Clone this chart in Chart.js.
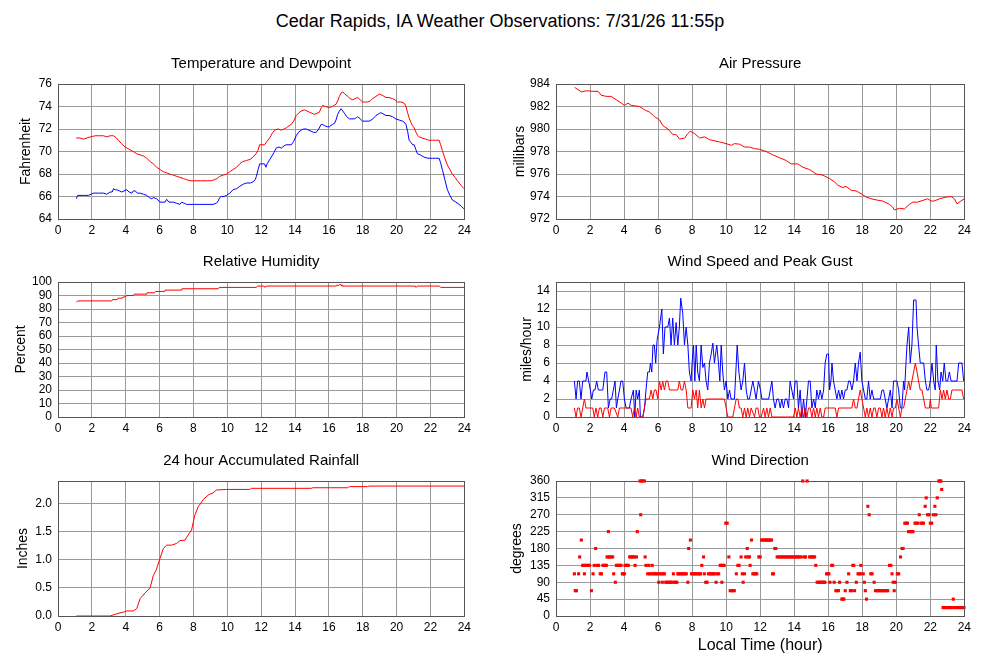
<!DOCTYPE html>
<html>
<head>
<meta charset="utf-8">
<script src="https://cdn.jsdelivr.net/npm/chart.js@4.4.1/dist/chart.umd.min.js"></script>
<style>
    body { margin: 0; background: #fff; }
    #page { position: relative; width: 1000px; height: 660px; overflow: hidden; font-family: "Liberation Sans", Arial, sans-serif; }
    #mainTitle { position: absolute; left: 0; top: 10px; width: 1000px; text-align: center; font-size: 18px; line-height: 22px; color: #000; }
    canvas { position: absolute; }
</style>
</head>
<body>
<div id="page">
    <div id="mainTitle">Cedar Rapids, IA Weather Observations: 7/31/26 11:55p</div>
    <canvas id="tempChart" width="475" height="198" style="left:0;top:45px"></canvas>
    <canvas id="pressChart" width="475" height="198" style="left:500px;top:45px"></canvas>
    <canvas id="rhChart" width="475" height="198" style="left:0;top:243px"></canvas>
    <canvas id="windChart" width="475" height="198" style="left:500px;top:243px"></canvas>
    <canvas id="rainChart" width="475" height="198" style="left:0;top:442px"></canvas>
    <canvas id="dirChart" width="475" height="218" style="left:500px;top:442px"></canvas>
</div>
<script>
// readings as [hour, value]
const temperature = [
    [1.08,71.2],[1.3,71.2],[1.51,71.1],[1.7,71.2],[1.9,71.3],[2.2,71.4],[2.45,71.4],[2.69,71.4],[2.88,71.3],[3.08,71.4],
    [3.28,71.4],[3.45,71.2],[3.57,71.0],[3.75,70.7],[3.96,70.4],[4.2,70.2],[4.45,70.0],[4.65,69.8],[4.85,69.7],[5.05,69.6],
    [5.24,69.4],[5.45,69.1],[5.63,68.9],[5.83,68.6],[6.02,68.4],[6.22,68.2],[6.42,68.1],[6.6,68.0],[6.81,67.9],[7.0,67.8],
    [7.2,67.7],[7.4,67.6],[7.59,67.5],[7.8,67.4],[7.99,67.4],[8.4,67.4],[8.77,67.4],[9.05,67.4],[9.26,67.5],[9.4,67.6],
    [9.56,67.8],[9.75,67.9],[9.95,68.0],[10.15,68.2],[10.34,68.4],[10.55,68.6],[10.73,68.9],[10.9,69.1],[11.13,69.2],[11.35,69.3],
    [11.52,69.5],[11.7,69.8],[11.81,70.1],[11.91,70.6],[12.05,70.6],[12.2,70.6],[12.35,70.9],[12.5,71.2],[12.65,71.6],[12.79,71.9],
    [13.0,72.0],[13.19,71.9],[13.35,72.0],[13.48,72.1],[13.65,72.3],[13.78,72.4],[13.92,72.7],[14.07,73.2],[14.2,73.4],[14.36,73.6],
    [14.56,73.7],[14.7,73.6],[14.85,73.5],[15.0,73.4],[15.15,73.3],[15.3,73.4],[15.44,73.5],[15.55,73.9],[15.64,74.1],[15.8,74.0],
    [16.03,73.9],[16.2,74.0],[16.42,74.2],[16.52,74.5],[16.62,74.9],[16.72,75.2],[16.82,75.3],[16.95,75.1],[17.11,74.9],[17.25,74.7],
    [17.41,74.6],[17.55,74.7],[17.7,74.8],[17.85,74.6],[17.99,74.4],[18.15,74.4],[18.29,74.4],[18.45,74.5],[18.58,74.7],[18.78,74.9],
    [18.98,75.1],[19.15,75.0],[19.37,74.8],[19.55,74.8],[19.76,74.7],[19.9,74.6],[20.05,74.4],[20.25,74.4],[20.45,74.3],[20.55,74.0],
    [20.64,73.5],[20.74,73.0],[20.84,72.6],[20.94,72.3],[21.04,72.1],[21.15,71.7],[21.25,71.4],[21.33,71.3],[21.5,71.2],[21.72,71.1],
    [21.9,71.0],[22.12,71.0],[22.3,71.0],[22.51,71.0],[22.6,70.6],[22.7,70.1],[22.85,69.4],[23.0,68.8],[23.15,68.4],[23.29,68.0],
    [23.45,67.7],[23.59,67.4],[23.8,67.0],[23.98,66.7]
];
const dewpoint = [
    [1.08,65.8],[1.16,66.1],[1.5,66.1],[1.8,66.1],[2.1,66.3],[2.4,66.3],[2.69,66.3],[2.88,66.2],[3.08,66.4],[3.2,66.4],
    [3.28,66.7],[3.37,66.6],[3.47,66.6],[3.62,66.5],[3.77,66.4],[3.9,66.5],[4.06,66.6],[4.2,66.4],[4.36,66.3],[4.45,66.5],
    [4.55,66.5],[4.7,66.3],[4.85,66.3],[5.05,66.2],[5.24,66.1],[5.4,65.9],[5.53,65.8],[5.65,65.9],[5.83,65.8],[6.02,65.5],
    [6.2,65.5],[6.32,65.5],[6.42,65.75],[6.55,65.5],[6.81,65.5],[7.0,65.4],[7.2,65.3],[7.3,65.5],[7.45,65.4],[7.59,65.3],
    [8.0,65.3],[8.38,65.3],[8.8,65.3],[9.16,65.3],[9.35,65.4],[9.46,65.6],[9.55,65.9],[9.65,66.0],[9.8,66.0],[9.95,66.1],
    [10.15,66.3],[10.34,66.6],[10.55,66.7],[10.73,66.9],[10.95,67.1],[11.13,67.2],[11.35,67.2],[11.52,67.3],[11.65,67.5],[11.72,67.8],
    [11.82,68.4],[11.91,68.9],[12.05,68.9],[12.2,68.9],[12.28,68.6],[12.35,68.9],[12.6,69.5],[12.75,69.9],[12.89,70.3],[13.05,70.4],
    [13.19,70.3],[13.35,70.5],[13.48,70.6],[13.65,70.6],[13.78,70.6],[13.92,70.9],[14.07,71.4],[14.2,71.7],[14.36,71.9],[14.5,72.0],
    [14.66,72.0],[14.8,71.9],[14.95,71.8],[15.1,71.7],[15.25,71.7],[15.4,72.0],[15.54,72.4],[15.64,72.4],[15.74,72.3],[15.9,72.2],
    [16.03,72.2],[16.2,72.4],[16.33,72.5],[16.42,72.8],[16.52,73.3],[16.62,73.6],[16.72,73.8],[16.82,73.6],[16.92,73.4],[17.05,73.1],
    [17.21,72.9],[17.35,72.9],[17.5,72.9],[17.62,73.0],[17.7,73.1],[17.85,72.9],[17.99,72.7],[18.2,72.7],[18.39,72.7],[18.6,72.9],
    [18.78,73.2],[18.93,73.35],[19.07,73.45],[19.2,73.35],[19.37,73.2],[19.55,73.2],[19.76,73.1],[19.95,72.9],[20.15,72.8],[20.35,72.7],
    [20.45,72.6],[20.55,72.4],[20.65,71.8],[20.74,71.0],[20.85,70.8],[20.95,70.6],[21.04,70.6],[21.13,70.2],[21.23,69.8],[21.4,69.7],
    [21.62,69.5],[21.85,69.4],[22.12,69.4],[22.3,69.4],[22.51,69.4],[22.6,69.0],[22.7,68.4],[22.85,67.5],[23.0,66.6],[23.15,66.1],
    [23.29,65.7],[23.5,65.5],[23.69,65.3],[23.85,65.1],[23.98,64.9]
];
const pressure = [
    [1.1,983.7],[1.29,983.5],[1.49,983.3],[1.78,983.4],[2.17,983.35],[2.47,983.35],[2.66,983.0],[2.96,982.9],[3.25,982.9],[3.54,982.6],
    [3.84,982.3],[4.03,982.1],[4.23,982.3],[4.42,982.1],[4.91,982.0],[5.21,981.7],[5.5,981.5],[5.79,981.1],[6.09,980.8],[6.28,980.3],
    [6.58,980.0],[6.87,979.5],[7.07,979.5],[7.26,979.1],[7.56,979.2],[7.75,979.6],[7.89,979.8],[8.14,979.6],[8.44,979.2],[8.73,979.3],
    [9.03,979.05],[9.61,978.85],[10.0,978.7],[10.3,978.55],[10.49,978.7],[10.79,978.65],[11.08,978.4],[11.37,978.4],[11.67,978.25],[11.96,978.2],
    [12.35,978.0],[12.74,977.7],[13.14,977.45],[13.53,977.2],[13.82,976.9],[14.21,976.9],[14.51,976.6],[14.9,976.4],[15.29,976.0],[15.68,975.9],
    [16.07,975.6],[16.37,975.3],[16.56,975.0],[16.86,974.8],[17.05,974.9],[17.35,974.55],[17.64,974.5],[17.93,974.25],[18.23,973.95],[18.52,973.8],
    [18.81,973.7],[19.2,973.6],[19.6,973.3],[19.79,973.05],[19.89,972.8],[20.18,972.95],[20.48,972.9],[20.77,973.3],[20.97,973.5],[21.26,973.5],
    [21.65,973.7],[21.85,973.8],[22.04,973.6],[22.24,973.6],[22.53,973.8],[22.93,973.95],[23.22,974.0],[23.41,973.8],[23.57,973.35],[23.8,973.6],
    [24.0,973.8]
];
const humidity = [
    [1.08,85],[1.16,86],[3.18,86],[3.22,87],[3.5,87],[3.55,88],[3.8,88],[3.85,89],[4.0,89],[4.05,90],
    [4.45,90],[4.5,91],[5.2,91],[5.25,92],[5.7,92],[5.75,93],[6.28,93],[6.32,94],[7.28,94],[7.32,95],
    [9.46,95],[9.52,96],[11.72,96],[11.78,97],[12.18,97],[12.24,96],[12.3,97],[16.45,97],[16.5,98],[16.56,97],
    [16.62,98],[16.72,98],[16.77,97],[21.1,97],[21.15,96],[21.22,97],[22.52,97],[22.6,96],[23.98,96]
];
const rainfall = [
    [1.08,0],[3.08,0],[3.47,0.04],[3.87,0.07],[4.06,0.09],[4.45,0.09],[4.65,0.13],[4.85,0.31],[5.14,0.41],[5.44,0.5],
    [5.63,0.72],[5.79,0.81],[6.02,1.02],[6.22,1.2],[6.42,1.26],[6.71,1.26],[7.01,1.29],[7.2,1.34],[7.5,1.35],[7.69,1.44],
    [7.89,1.53],[8.08,1.79],[8.28,1.94],[8.58,2.07],[8.87,2.15],[9.16,2.19],[9.36,2.24],[9.95,2.25],[11.32,2.25],[11.42,2.27],
    [14.95,2.27],[15.05,2.28],[17.11,2.28],[17.21,2.3],[18.29,2.3],[18.39,2.31],[23.98,2.31]
];
const windSpeed = [
    [1.08,1],[1.18,0],[1.27,1],[1.37,1],[1.47,0],[1.57,1],[1.67,2],[1.76,1],[1.86,1],[1.96,1],[2.06,1],[2.16,1],[2.25,0],[2.35,1],
    [2.45,0],[2.55,1],[2.65,1],[2.75,0],[2.85,1],[2.95,1],[3.04,1],[3.14,0],[3.24,1],[3.43,1],[3.63,0],[3.73,1],[3.9,1],[4.1,1],
    [4.3,1],[4.41,1],[4.51,0],[4.61,1],[4.71,0],[4.8,1],[4.9,0],[5.1,0],[5.2,1],[5.29,2],[5.49,2],[5.59,3],[5.69,2],[5.78,3],
    [5.88,3],[5.98,2],[6.08,4],[6.18,3],[6.27,4],[6.37,3],[6.47,4],[6.57,4],[6.67,3],[6.76,3],[6.96,3],[7.16,3],[7.25,4],[7.35,3],
    [7.45,3],[7.55,4],[7.65,3],[7.75,1],[7.94,1],[8.04,3],[8.14,2],[8.24,3],[8.33,1],[8.43,3],[8.53,1],[8.63,2],[8.73,1],[8.82,2],
    [8.92,2],[9.4,2],[9.9,2],[10.0,1],[10.1,0],[10.39,0],[10.49,1],[10.59,2],[10.69,2],[10.78,1],[10.88,1],[10.98,0],[11.08,1],
    [11.18,0],[11.27,1],[11.37,0],[11.47,1],[11.67,0],[11.76,1],[11.86,1],[11.96,0],[12.06,0],[12.2,1],[12.29,0],[12.39,1],[12.49,0],
    [12.59,1],[12.69,0],[13.3,0],[13.96,0],[14.06,1],[14.16,0],[14.25,1],[14.35,0],[14.45,1],[14.55,0],[14.65,1],[14.75,0],[14.84,1],
    [14.94,1],[15.04,0],[15.14,1],[15.24,0],[15.33,1],[15.43,0],[15.53,1],[15.63,0],[15.73,0],[15.82,1],[16.41,1],[16.51,0],[16.61,1],
    [17.39,1],[17.49,2],[17.59,1],[17.69,1],[17.78,2],[17.88,3],[17.98,2],[18.08,1],[18.18,0],[18.27,1],[18.37,0],[18.47,1],[18.57,0],
    [18.67,1],[18.76,1],[18.86,0],[18.96,1],[19.06,1],[19.16,0],[19.25,1],[19.35,0],[19.45,1],[19.55,0],[19.65,1],[19.75,0],[19.84,1],
    [19.94,1],[20.04,2],[20.14,1],[20.24,0],[20.33,1],[20.43,1],[20.53,2],[20.63,3],[20.73,4],[20.82,3],[20.92,4],[21.02,5],[21.12,6],
    [21.22,5],[21.31,4],[21.41,3],[21.51,3],[21.61,2],[21.71,1],[21.8,1],[21.95,1],[22.0,2],[22.06,1],[22.49,1],[22.59,3],[22.69,2],
    [22.78,3],[22.88,2],[22.98,3],[23.08,2],[23.18,2],[23.27,3],[23.37,3],[23.86,3],[23.96,2]
];
const windGust = [
    [1.08,4],[1.18,2],[1.27,4],[1.37,4],[1.47,2],[1.57,4],[1.67,4],[1.76,4],[1.82,5],[1.92,4],[2.02,3],[2.1,2],[2.2,3],[2.29,3],
    [2.39,4],[2.49,3],[2.6,3],[2.75,3],[2.88,5],[2.98,5],[3.08,1],[3.18,2],[3.27,2],[3.37,3],[3.47,4],[3.55,1],[3.63,2],[3.73,3],
    [3.82,4],[3.92,4],[4.02,2],[4.12,1],[4.2,1],[4.31,1],[4.41,2],[4.55,3],[4.63,0],[4.71,3],[4.8,2],[4.9,3],[4.96,0],[5.1,0],
    [5.2,1],[5.29,3],[5.39,5],[5.49,5],[5.55,6],[5.63,5],[5.7,8],[5.78,8],[5.86,6],[5.94,8.5],[6.08,10],[6.22,12],[6.31,7],[6.41,10],
    [6.57,10],[6.67,11],[6.76,8],[6.86,11],[6.96,8],[7.06,10.5],[7.16,8],[7.25,10],[7.33,13.2],[7.45,11.5],[7.55,8],[7.65,10],[7.75,8],
    [7.84,5],[7.94,4],[8.0,6],[8.08,8],[8.16,4],[8.24,8],[8.33,5],[8.43,4],[8.53,8],[8.63,5.5],[8.73,6],[8.82,4],[8.92,3],[9.02,6],
    [9.12,7],[9.22,8.2],[9.31,6],[9.45,8],[9.55,6],[9.63,4],[9.71,8],[9.8,5],[9.9,3],[10.0,4],[10.1,2],[10.2,3],[10.29,2],[10.49,2],
    [10.65,8],[10.75,5],[10.88,3],[10.98,4],[11.08,6],[11.18,3],[11.27,2],[11.37,2],[11.47,3],[11.57,4],[11.67,3],[11.76,2],[11.9,4],
    [12.02,3],[12.1,2],[12.3,2],[12.5,2],[12.69,4],[12.78,2],[12.88,1],[12.98,2],[13.08,2],[13.18,1],[13.27,2],[13.37,1],[13.47,2],
    [13.57,2],[13.67,1],[13.76,4],[13.86,3],[13.96,2],[14.06,4],[14.16,4],[14.25,1],[14.35,3],[14.45,0],[14.55,2],[14.65,0],[14.75,2],
    [14.84,4],[14.94,4],[15.04,1],[15.14,2],[15.24,1],[15.33,3],[15.43,2],[15.53,3],[15.63,2],[15.73,3],[15.82,6],[15.92,7],[16.02,7],
    [16.08,3],[16.16,4],[16.22,6],[16.31,4],[16.41,3],[16.51,2],[16.61,3],[16.71,2],[16.8,3],[16.9,2],[17.0,3],[17.1,3],[17.2,4],
    [17.29,4],[17.39,3],[17.49,4],[17.59,6],[17.69,4],[17.78,6],[17.88,7.2],[17.98,4],[18.08,3],[18.18,2],[18.27,2],[18.37,4],[18.47,2],
    [18.57,3],[18.67,2],[18.76,2],[19.06,2],[19.16,3],[19.25,3],[19.35,2],[19.45,1],[19.55,2],[19.65,3],[19.75,1],[19.84,4],[19.94,4],
    [20.04,4],[20.14,3],[20.24,1],[20.33,1],[20.43,4],[20.49,3],[20.57,6],[20.63,8],[20.73,10],[20.82,6],[20.92,8],[21.02,13],[21.16,13],
    [21.22,10],[21.31,8],[21.41,6],[21.51,6],[21.61,6],[21.71,4],[21.8,3],[21.9,3],[22.0,4],[22.1,6],[22.2,4],[22.29,3],[22.35,8],
    [22.45,4],[22.55,3],[22.63,5],[22.73,4],[22.82,6],[22.92,4],[23.02,4],[23.12,5],[23.22,4],[23.37,4],[23.57,4],[23.67,6],[23.76,6],
    [23.86,6],[23.96,4]
];
const windDirection = [
    [1.08,112.5],[1.13,67.5],[1.2,67.5],[1.33,112.5],[1.39,157.5],[1.49,202.5],[1.57,135],[1.63,135],[1.67,112.5],[1.72,135],
    [1.8,135],[1.88,135],[1.96,135],[2.08,67.5],[2.18,112.5],[2.25,135],[2.33,180],[2.43,135],[2.5,135],[2.6,112.5],
    [2.67,112.5],[2.76,135],[2.83,135],[2.9,135],[2.96,135],[3.0,157.5],[3.08,225],[3.1,157.5],[3.17,157.5],[3.25,157.5],
    [3.33,157.5],[3.39,112.5],[3.49,90],[3.55,135],[3.62,135],[3.7,135],[3.76,135],[3.82,135],[3.9,112.5],[3.96,112.5],
    [4.02,112.5],[4.06,135],[4.13,135],[4.2,135],[4.25,135],[4.33,157.5],[4.4,157.5],[4.47,157.5],[4.53,157.5],[4.6,157.5],
    [4.65,135],[4.73,157.5],[4.78,225],[4.94,360],[4.98,270],[5.02,360],[5.1,360],[5.2,360],[5.24,157.5],[5.29,135],
    [5.39,112.5],[5.45,135],[5.5,112.5],[5.6,112.5],[5.65,135],[5.72,112.5],[5.8,112.5],[5.88,112.5],[5.96,112.5],[6.04,90],
    [6.1,112.5],[6.18,112.5],[6.25,90],[6.3,112.5],[6.37,112.5],[6.45,90],[6.52,90],[6.6,90],[6.68,90],[6.75,90],
    [6.82,90],[6.9,112.5],[6.96,90],[7.04,90],[7.1,90],[7.16,112.5],[7.2,112.5],[7.28,112.5],[7.35,112.5],[7.42,112.5],
    [7.5,112.5],[7.58,112.5],[7.66,112.5],[7.75,90],[7.8,180],[7.9,202.5],[7.96,112.5],[8.04,112.5],[8.12,112.5],[8.2,112.5],
    [8.28,112.5],[8.36,112.5],[8.44,112.5],[8.5,112.5],[8.57,135],[8.67,157.5],[8.72,112.5],[8.8,90],[8.88,90],[8.96,112.5],
    [9.04,112.5],[9.1,112.5],[9.18,112.5],[9.26,112.5],[9.33,112.5],[9.41,90],[9.48,112.5],[9.56,112.5],[9.65,135],[9.72,135],
    [9.75,90],[9.8,135],[9.88,135],[9.98,247.5],[10.06,247.5],[10.16,157.5],[10.24,67.5],[10.32,67.5],[10.4,67.5],[10.48,67.5],
    [10.6,112.5],[10.69,135],[10.76,135],[10.88,157.5],[10.95,112.5],[11.0,90],[11.08,112.5],[11.15,157.5],[11.24,180],[11.3,157.5],
    [11.37,157.5],[11.41,135],[11.49,202.5],[11.57,112.5],[11.65,112.5],[11.72,112.5],[11.8,112.5],[11.92,157.5],[12.0,157.5],[12.08,202.5],
    [12.15,202.5],[12.22,202.5],[12.3,202.5],[12.38,202.5],[12.45,202.5],[12.52,202.5],[12.6,202.5],[12.67,202.5],[12.73,112.5],[12.78,112.5],
    [12.86,180],[12.92,180],[13.0,157.5],[13.08,157.5],[13.17,157.5],[13.25,157.5],[13.33,157.5],[13.42,157.5],[13.5,157.5],[13.58,157.5],
    [13.67,157.5],[13.75,157.5],[13.83,157.5],[13.92,157.5],[14.0,157.5],[14.08,157.5],[14.17,157.5],[14.25,157.5],[14.33,157.5],[14.42,157.5],
    [14.5,360],[14.6,157.5],[14.67,157.5],[14.76,360],[14.9,157.5],[14.98,157.5],[15.06,157.5],[15.14,157.5],[15.2,157.5],[15.27,135],
    [15.35,90],[15.43,90],[15.5,90],[15.58,90],[15.66,90],[15.74,90],[15.8,90],[15.9,112.5],[15.97,112.5],[16.04,112.5],
    [16.1,90],[16.2,135],[16.26,135],[16.35,90],[16.45,67.5],[16.52,67.5],[16.6,67.5],[16.67,90],[16.8,45],[16.86,45],
    [16.92,45],[17.0,67.5],[17.1,90],[17.2,112.5],[17.3,67.5],[17.36,67.5],[17.45,135],[17.5,135],[17.55,67.5],[17.65,90],
    [17.75,112.5],[17.82,112.5],[17.9,112.5],[17.92,135],[18.06,112.5],[18.12,90],[18.18,67.5],[18.25,45],[18.33,292.5],[18.41,270],
    [18.5,112.5],[18.58,112.5],[18.7,90],[18.78,67.5],[18.86,67.5],[18.94,67.5],[19.02,67.5],[19.1,67.5],[19.18,67.5],[19.26,67.5],
    [19.34,67.5],[19.42,67.5],[19.5,67.5],[19.6,135],[19.68,135],[19.75,112.5],[19.82,90],[19.88,67.5],[19.94,90],[20.06,112.5],
    [20.14,112.5],[20.25,157.5],[20.34,180],[20.4,180],[20.5,247.5],[20.58,247.5],[20.66,247.5],[20.72,225],[20.82,225],[20.9,225],
    [20.98,225],[21.1,247.5],[21.18,247.5],[21.26,247.5],[21.35,270],[21.45,247.5],[21.52,247.5],[21.6,247.5],[21.7,292.5],[21.76,315],
    [21.84,270],[21.92,270],[22.0,247.5],[22.08,247.5],[22.18,270],[22.27,292.5],[22.33,270],[22.41,315],[22.5,360],[22.56,360],
    [22.62,360],[22.67,337.5],[22.75,22.5],[22.83,22.5],[22.91,22.5],[22.99,22.5],[23.07,22.5],[23.15,22.5],[23.23,22.5],[23.3,22.5],
    [23.35,45],[23.45,22.5],[23.53,22.5],[23.61,22.5],[23.69,22.5],[23.77,22.5],[23.85,22.5],[23.93,22.5],[23.98,22.5]
];

const FONT = '"Liberation Sans", Arial, sans-serif';
const GRID = '#9a9a9a';
const FRAME = '#555';

const toXY = pts => pts.map(p => ({ x: p[0], y: p[1] }));

// dark box round each plot area
const framePlugin = {
    id: 'frame',
    afterDraw(chart) {
        const a = chart.chartArea;
        const ctx = chart.ctx;
        ctx.save();
        ctx.strokeStyle = FRAME;
        ctx.lineWidth = 1;
        ctx.strokeRect(Math.round(a.left) + 0.5, Math.round(a.top) + 0.5,
            Math.round(a.right - a.left), Math.round(a.bottom - a.top));
        ctx.restore();
    }
};

function lineSet(points, color) {
    return {
        data: toXY(points),
        borderColor: color,
        borderWidth: 1,
        pointRadius: 0,
        tension: 0,
        fill: false
    };
}

function makePanel(id, cfg) {
    const ctx = document.getElementById(id);
    return new Chart(ctx, {
        type: 'line',
        data: { datasets: cfg.datasets },
        plugins: [framePlugin],
        options: {
            responsive: false,
            animation: false,
            events: [],
            layout: { padding: { left: 0, right: 10, top: 0, bottom: 0 } },
            plugins: {
                legend: { display: false },
                tooltip: { enabled: false },
                title: {
                    display: true,
                    text: cfg.title,
                    fullSize: false,
                    color: '#000',
                    font: { family: FONT, size: 15, weight: 'normal' },
                    padding: { top: 10, bottom: 11 }
                }
            },
            scales: {
                x: {
                    type: 'linear',
                    min: 0,
                    max: 24,
                    ticks: { stepSize: 2, padding: 4, color: '#000', autoSkip: false, maxRotation: 0,
                        font: { family: FONT, size: 12 } },
                    grid: { color: GRID, drawTicks: false },
                    border: { color: FRAME },
                    title: cfg.xTitle ? {
                        display: true, text: cfg.xTitle, color: '#000',
                        font: { family: FONT, size: 16 }, padding: { top: 0, bottom: 5 }
                    } : { display: false },
                    afterFit: s => { s.height = cfg.xHeight || 24; }
                },
                y: {
                    min: cfg.yMin,
                    max: cfg.yMax,
                    ticks: { stepSize: cfg.yStep, padding: 6, includeBounds: false, autoSkip: false, color: '#000',
                        font: { family: FONT, size: 12 },
                        callback: cfg.yFormat || (v => v) },
                    grid: { color: GRID, drawTicks: false },
                    border: { color: FRAME },
                    title: {
                        display: true, text: cfg.yTitle, color: '#000',
                        font: { family: FONT, size: 14 }, padding: { top: cfg.yTitlePad, bottom: 0 }
                    },
                    afterFit: s => { s.width = cfg.yWidth; }
                }
            }
        }
    });
}

makePanel('tempChart', {
    title: 'Temperature and Dewpoint', yTitle: 'Fahrenheit', yTitlePad: 18, yWidth: 58,
    yMin: 64, yMax: 76, yStep: 2,
    datasets: [lineSet(temperature, '#ff0000'), lineSet(dewpoint, '#0000ff')]
});

makePanel('pressChart', {
    title: 'Air Pressure', yTitle: 'millibars', yTitlePad: 12, yWidth: 56,
    yMin: 972, yMax: 984, yStep: 2,
    datasets: [lineSet(pressure, '#ff0000')]
});

makePanel('rhChart', {
    title: 'Relative Humidity', yTitle: 'Percent', yTitlePad: 13, yWidth: 58,
    yMin: 0, yMax: 100, yStep: 10,
    datasets: [lineSet(humidity, '#ff0000')]
});

makePanel('windChart', {
    title: 'Wind Speed and Peak Gust', yTitle: 'miles/hour', yTitlePad: 19, yWidth: 56,
    yMin: 0, yMax: 15, yStep: 2,
    datasets: [lineSet(windSpeed, '#ff0000'), lineSet(windGust, '#0000ff')]
});

makePanel('rainChart', {
    title: '24 hour Accumulated Rainfall', yTitle: 'Inches', yTitlePad: 15, yWidth: 58,
    yMin: 0, yMax: 2.4, yStep: 0.5, yFormat: v => v.toFixed(1),
    datasets: [lineSet(rainfall, '#ff0000')]
});

makePanel('dirChart', {
    title: 'Wind Direction', yTitle: 'degrees', yTitlePad: 9, yWidth: 56,
    yMin: 0, yMax: 360, yStep: 45,
    xTitle: 'Local Time (hour)', xHeight: 44,
    datasets: [{
        data: toXY(windDirection),
        showLine: false,
        pointStyle: 'rect',
        pointRadius: 2.2,
        pointBorderWidth: 0,
        pointBackgroundColor: '#ff0000',
        clip: false
    }]
});
</script>
</body>
</html>
